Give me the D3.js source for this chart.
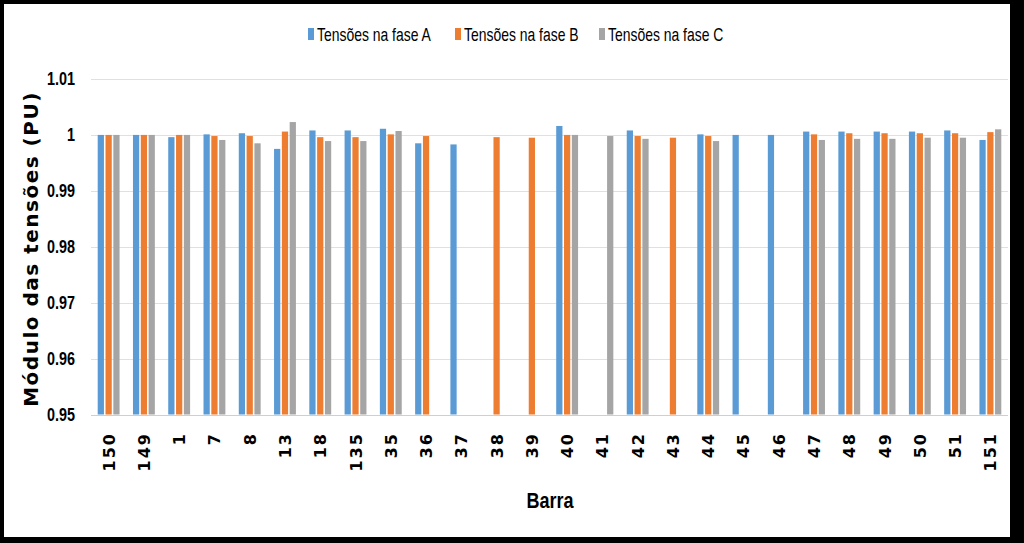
<!DOCTYPE html>
<html>
<head>
<meta charset="utf-8">
<script src="https://cdn.jsdelivr.net/npm/d3@7"></script>
<style>
html,body{margin:0;padding:0;background:#000;}
svg{display:block;}
</style>
</head>
<body>
<script>
const categories = ["150","149","1","7","8","13","18","135","35","36","37","38","39","40","41","42","43","44","45","46","47","48","49","50","51","151"];
const faseA = [1.0000,1.0000,0.9996,1.0001,1.0003,0.9975,1.0008,1.0008,1.0011,0.9985,0.9983,null,null,1.0016,null,1.0008,null,1.0001,1.0000,1.0000,1.0006,1.0006,1.0006,1.0006,1.0008,0.9991];
const faseB = [1.0000,1.0000,1.0000,0.9998,0.9998,1.0006,0.9996,0.9996,1.0001,0.9998,null,0.9996,0.9995,1.0000,null,0.9998,0.9995,0.9998,null,null,1.0001,1.0003,1.0003,1.0003,1.0003,1.0005];
const faseC = [1.0000,1.0000,1.0000,0.9991,0.9985,1.0023,0.9989,0.9989,1.0007,null,null,null,null,1.0000,0.9998,0.9993,null,0.9989,null,null,0.9991,0.9993,0.9993,0.9995,0.9995,1.0010];
const seriesNames = ["Tensões na fase A","Tensões na fase B","Tensões na fase C"];
const yTicks = [0.95,0.96,0.97,0.98,0.99,1,1.01];
const yTickLabels = ["0.95","0.96","0.97","0.98","0.99","1","1.01"];
const colors = ["#5B9BD5","#ED7D31","#A5A5A5"];
const seriesValues = [faseA, faseB, faseC];

const W = 1024, H = 543;
const svg = d3.select("body").append("svg").attr("width", W).attr("height", H);
svg.append("rect").attr("x",0).attr("y",0).attr("width",W).attr("height",H).attr("fill","#000");
svg.append("rect").attr("x",4).attr("y",4).attr("width",1006).attr("height",533).attr("fill","#fff");

const plot = {left: 91, right: 1008, top: 79, bottom: 414.5};
const x = d3.scaleBand().domain(categories).range([plot.left, plot.right]).paddingInner(0.38).paddingOuter(0.19);
const xs = d3.scaleBand().domain(d3.range(3)).range([0, x.bandwidth()]).paddingInner(0.2);
const y = d3.scaleLinear().domain([0.95, 1.01]).range([plot.bottom, plot.top]);

const narrow = "'Liberation Sans',Arial,sans-serif";
const SX = 0.82;

// gridlines
svg.append("g").selectAll("line").data(yTicks).join("line")
  .attr("x1", plot.left).attr("x2", plot.right)
  .attr("y1", d => Math.round(y(d)) + 0.5).attr("y2", d => Math.round(y(d)) + 0.5)
  .attr("stroke", d => d === 0.95 ? "#cfcfcf" : "#e0e0e0").attr("stroke-width", 1);

// y tick labels
svg.append("g").selectAll("text").data(yTicks).join("text")
  .attr("transform", d => `translate(75,${y(d)}) scale(0.8,1)`)
  .attr("dy", "0.36em")
  .attr("text-anchor", "end")
  .attr("font-family", narrow).attr("font-weight", "bold").attr("font-size", 18)
  .attr("fill", "#000")
  .text((d, i) => yTickLabels[i]);

// bars
seriesValues.forEach((vals, si) => {
  svg.append("g").selectAll("rect")
    .data(categories.map((c, i) => ({c, v: vals[i]})).filter(d => d.v !== null))
    .join("rect")
    .attr("x", d => x(d.c) + xs(si))
    .attr("width", xs.bandwidth())
    .attr("y", d => y(d.v))
    .attr("height", d => y(0.95) - y(d.v))
    .attr("fill", colors[si]);
});

// x tick labels
svg.append("g").selectAll("text").data(categories).join("text")
  .attr("transform", d => `translate(${x(d) + x.bandwidth()/2 + 6},432) rotate(-90)`)
  .attr("text-anchor", "end")
  .attr("font-family", "'DejaVu Sans',sans-serif").attr("font-weight", "bold").attr("font-size", 16)
  .attr("letter-spacing", "2px")
  .attr("fill", "#000")
  .text(d => d);

// y title
svg.append("text")
  .attr("transform", "translate(38,249) rotate(-90)")
  .attr("text-anchor", "middle")
  .attr("font-family", "'DejaVu Sans',sans-serif").attr("font-weight", "bold").attr("font-size", 20)
  .attr("letter-spacing", "1.5px")
  .attr("fill", "#000")
  .text("Módulo das tensões (PU)");

// x title
svg.append("text")
  .attr("transform", `translate(550,508) scale(${SX},1)`)
  .attr("text-anchor", "middle")
  .attr("font-family", narrow).attr("font-weight", "bold").attr("font-size", 22)
  .attr("fill", "#000")
  .text("Barra");

// legend
const legendX = [308, 455, 599];
const lg = svg.append("g").selectAll("g").data(seriesNames).join("g")
  .attr("transform", (d, i) => `translate(${legendX[i]},28)`);
lg.append("rect").attr("x", 0).attr("y", 0).attr("width", 6).attr("height", 12).attr("fill", (d, i) => colors[i]);
lg.append("text").attr("transform", `translate(9,12.5) scale(${SX},1.05)`)
  .attr("font-family", narrow).attr("font-size", 17).attr("fill", "#000")
  .text(d => d);
</script>
</body>
</html>
